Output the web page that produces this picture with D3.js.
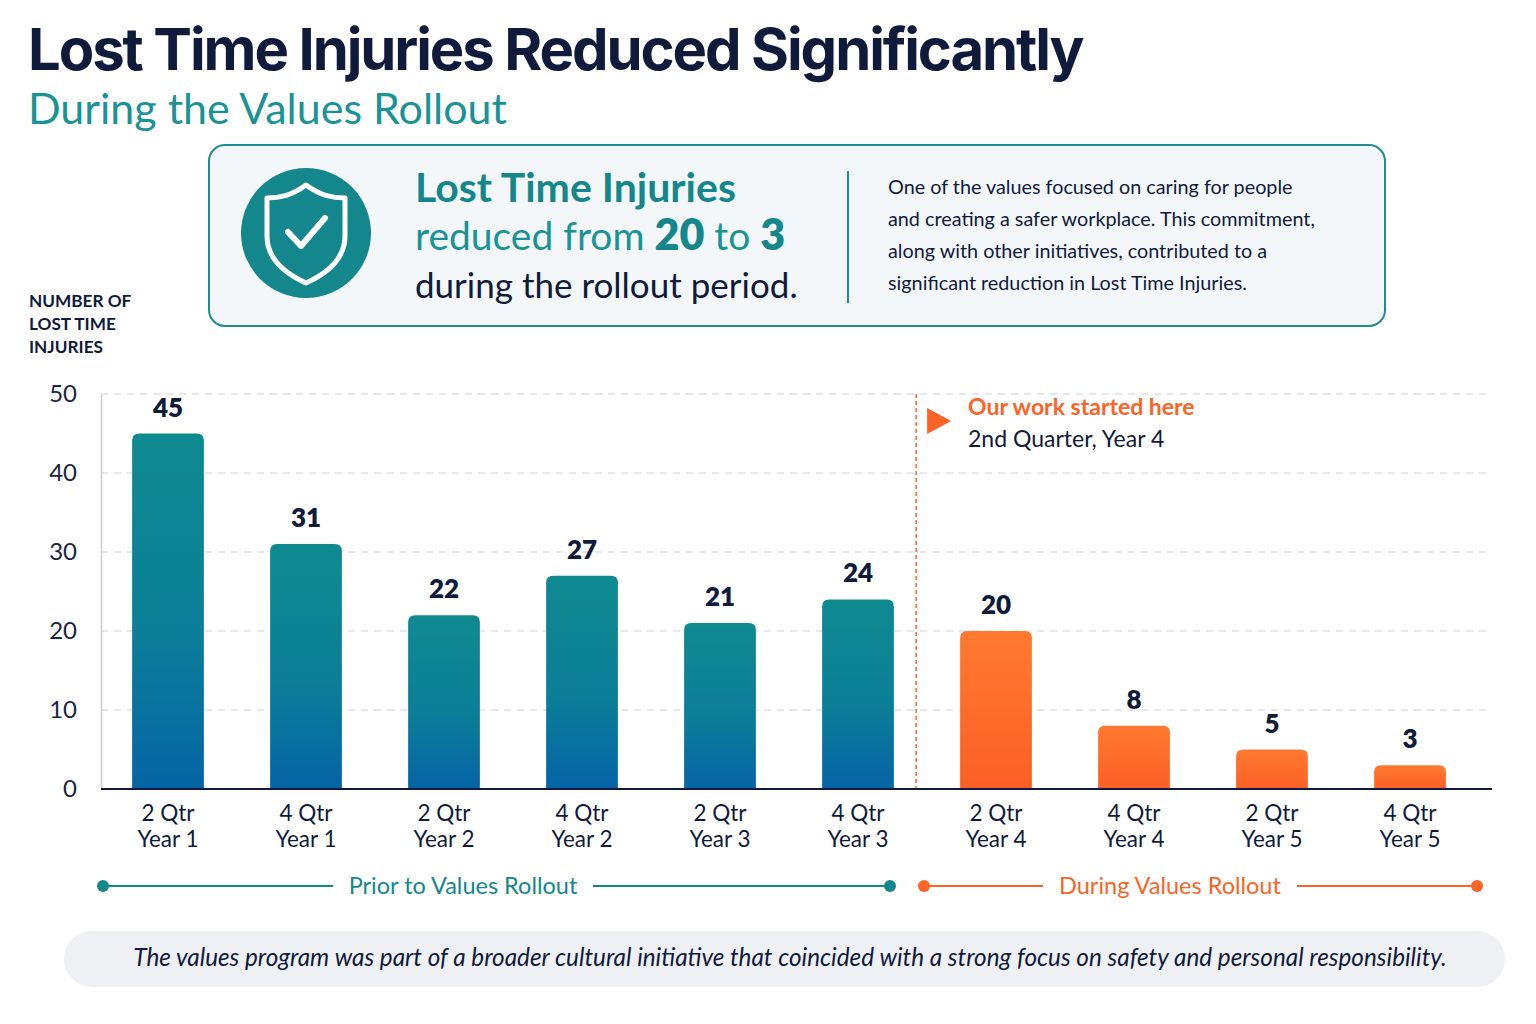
<!DOCTYPE html>
<html>
<head>
<meta charset="utf-8">
<script src="https://cdn.jsdelivr.net/npm/d3@7"></script>
<style>
  body { margin: 0; background: #ffffff; }
  svg { display: block; font-family: Lato, "Noto Sans", sans-serif; }
</style>
</head>
<body>
<div id="chart"></div>
<script>
// data
let periods = ["2 Qtr|Year 1", "4 Qtr|Year 1", "2 Qtr|Year 2", "4 Qtr|Year 2", "2 Qtr|Year 3",
               "4 Qtr|Year 3", "2 Qtr|Year 4", "4 Qtr|Year 4", "2 Qtr|Year 5", "4 Qtr|Year 5"];
let injuries = [45, 31, 22, 27, 21, 24, 20, 8, 5, 3];
let phase = ["prior", "prior", "prior", "prior", "prior", "prior", "during", "during", "during", "during"];
let yTicks = [0, 10, 20, 30, 40, 50];
let noteLines = [
    "One of the values focused on caring for people",
    "and creating a safer workplace. This commitment,",
    "along with other initiatives, contributed to a",
    "significant reduction in Lost Time Injuries."
];

const navy = "#101a3b",
      teal = "#14878c",
      orange = "#fb6426",
      grid = "#dfe1e8";

let W = 1536, H = 1024;
let svg = d3.select("#chart").append("svg")
    .attr("width", W)
    .attr("height", H);

let defs = svg.append("defs");
let gTeal = defs.append("linearGradient").attr("id", "gradTeal")
    .attr("x1", 0).attr("y1", 0).attr("x2", 0).attr("y2", 1);
gTeal.append("stop").attr("offset", "0%").attr("stop-color", "#0f8a90");
gTeal.append("stop").attr("offset", "55%").attr("stop-color", "#0b7f98");
gTeal.append("stop").attr("offset", "100%").attr("stop-color", "#0664a6");
let gOrange = defs.append("linearGradient").attr("id", "gradOrange")
    .attr("x1", 0).attr("y1", 0).attr("x2", 0).attr("y2", 1);
gOrange.append("stop").attr("offset", "0%").attr("stop-color", "#ff7a30");
gOrange.append("stop").attr("offset", "100%").attr("stop-color", "#fc5f26");

// title
svg.append("text")
    .attr("x", 28).attr("y", 70)
    .attr("font-family", "Inter, Lato, sans-serif")
    .attr("font-weight", 700)
    .attr("font-size", 58)
    .attr("letter-spacing", -2.1)
    .attr("fill", navy)
    .text("Lost Time Injuries Reduced Significantly");

svg.append("text")
    .attr("x", 28).attr("y", 124)
    .attr("font-size", 43)
    .attr("fill", "#1a9397")
    .text("During the Values Rollout");

// callout box
let box = svg.append("g");
box.append("rect")
    .attr("x", 209).attr("y", 145)
    .attr("width", 1176).attr("height", 181)
    .attr("rx", 16)
    .attr("fill", "#f3f7f9")
    .attr("stroke", "#1f8c91")
    .attr("stroke-width", 2);

box.append("circle")
    .attr("cx", 306).attr("cy", 233).attr("r", 65)
    .attr("fill", teal);

// shield outline + check
box.append("path")
    .attr("d", "M306,185 C321,196 333,198 345,198 L345,236 C345,258 328,273 306,283 C284,273 267,258 267,236 L267,198 C279,198 291,196 306,185 Z")
    .attr("fill", "none")
    .attr("stroke", "#ffffff")
    .attr("stroke-width", 5)
    .attr("stroke-linejoin", "round");
box.append("path")
    .attr("d", "M288,232 L301,246 L325,218")
    .attr("fill", "none")
    .attr("stroke", "#ffffff")
    .attr("stroke-width", 6)
    .attr("stroke-linecap", "round")
    .attr("stroke-linejoin", "round");

box.append("text")
    .attr("x", 415).attr("y", 202)
    .attr("font-size", 41)
    .attr("font-weight", 700)
    .attr("fill", teal)
    .text("Lost Time Injuries");

let line2 = box.append("text")
    .attr("x", 415).attr("y", 250)
    .attr("font-size", 39)
    .attr("fill", "#1a9397");
line2.append("tspan").text("reduced from ");
line2.append("tspan").attr("font-weight", 800).attr("font-size", 43).attr("fill", teal).text("20");
line2.append("tspan").text(" to ");
line2.append("tspan").attr("font-weight", 800).attr("font-size", 43).attr("fill", teal).text("3");

box.append("text")
    .attr("x", 415).attr("y", 298)
    .attr("font-size", 35)
    .attr("fill", navy)
    .text("during the rollout period.");

box.append("line")
    .attr("x1", 848).attr("x2", 848)
    .attr("y1", 171).attr("y2", 303)
    .attr("stroke", "#1f8c91")
    .attr("stroke-width", 2);

box.selectAll(".note")
    .data(noteLines)
    .enter().append("text")
    .attr("class", "note")
    .attr("x", 888)
    .attr("y", (d, i) => 194 + i * 32)
    .attr("font-size", 19.8)
    .attr("fill", navy)
    .text(d => d);

// y axis title
svg.selectAll(".ytitle")
    .data(["NUMBER OF", "LOST TIME", "INJURIES"])
    .enter().append("text")
    .attr("class", "ytitle")
    .attr("x", 29)
    .attr("y", (d, i) => 307 + i * 23)
    .attr("font-size", 17.2)
    .attr("font-weight", 700)
    .attr("fill", navy)
    .text(d => d);

// scales
let x = d3.scaleBand()
    .domain(periods)
    .range([99, 1479])
    .paddingInner(0.48)
    .paddingOuter(0.24);

let y = d3.scaleLinear()
    .domain([0, 50])
    .range([789, 394]);

let plot = svg.append("g");

// gridlines
plot.selectAll(".grid")
    .data(yTicks.filter(d => d > 0))
    .enter().append("line")
    .attr("class", "grid")
    .attr("x1", 101).attr("x2", 1492)
    .attr("y1", d => y(d)).attr("y2", d => y(d))
    .attr("stroke", grid)
    .attr("stroke-width", 1.5)
    .attr("stroke-dasharray", "7,6");

// y axis
let yAxis = d3.axisLeft(y).tickValues(yTicks).tickSize(0).tickPadding(24);
let yg = plot.append("g")
    .attr("transform", "translate(101,0)")
    .call(yAxis);
yg.select(".domain").attr("stroke", "#c9ccd6").attr("stroke-width", 1.5);
yg.selectAll("text")
    .attr("font-family", "Lato, sans-serif")
    .attr("font-size", 24)
    .attr("fill", "#1c2540");

// marker for start of rollout
let startX = x(periods[6]) - 44;
plot.append("line")
    .attr("x1", startX).attr("x2", startX)
    .attr("y1", 394).attr("y2", 789)
    .attr("stroke", orange)
    .attr("stroke-width", 1.5)
    .attr("stroke-dasharray", "4,3");

// bars with rounded tops
function barPath(d, i) {
    let x0 = x(periods[i]), w = x.bandwidth(), y0 = y(d), y1 = y(0), r = 7;
    return `M${x0},${y1} L${x0},${y0 + r} Q${x0},${y0} ${x0 + r},${y0} L${x0 + w - r},${y0} Q${x0 + w},${y0} ${x0 + w},${y0 + r} L${x0 + w},${y1} Z`;
}

plot.selectAll(".bar")
    .data(injuries)
    .enter().append("path")
    .attr("class", "bar")
    .attr("d", barPath)
    .attr("fill", (d, i) => phase[i] === "prior" ? "url(#gradTeal)" : "url(#gradOrange)");

plot.selectAll(".val")
    .data(injuries)
    .enter().append("text")
    .attr("class", "val")
    .attr("x", (d, i) => x(periods[i]) + x.bandwidth() / 2)
    .attr("y", d => y(d) - 17)
    .attr("text-anchor", "middle")
    .attr("font-size", 26)
    .attr("font-weight", 800)
    .attr("fill", navy)
    .text(d => d);

// baseline
plot.append("line")
    .attr("x1", 101).attr("x2", 1492)
    .attr("y1", y(0)).attr("y2", y(0))
    .attr("stroke", navy)
    .attr("stroke-width", 2);

// x labels
let xl = plot.selectAll(".xlab")
    .data(periods)
    .enter().append("text")
    .attr("class", "xlab")
    .attr("x", d => x(d) + x.bandwidth() / 2)
    .attr("text-anchor", "middle")
    .attr("font-size", 22.5)
    .attr("fill", navy);
xl.append("tspan").attr("y", 821).attr("x", d => x(d) + x.bandwidth() / 2).text(d => d.split("|")[0]);
xl.append("tspan").attr("y", 847).attr("x", d => x(d) + x.bandwidth() / 2).text(d => d.split("|")[1]);

// annotation
plot.append("path")
    .attr("d", `M${startX + 11},408 L${startX + 35},421 L${startX + 11},434 Z`)
    .attr("fill", orange);
plot.append("text")
    .attr("x", 968).attr("y", 415)
    .attr("font-size", 23)
    .attr("font-weight", 700)
    .attr("fill", orange)
    .text("Our work started here");
plot.append("text")
    .attr("x", 968).attr("y", 447)
    .attr("font-size", 23)
    .attr("fill", navy)
    .text("2nd Quarter, Year 4");

// phase brackets
let phases = [
    {name: "Prior to Values Rollout", x1: 103, x2: 890, mid: 463, gap: 130, color: teal},
    {name: "During Values Rollout", x1: 924, x2: 1477, mid: 1170, gap: 127, color: orange}
];
phases.forEach(function(p) {
    let g = svg.append("g");
    g.append("line")
        .attr("x1", p.x1).attr("x2", p.mid - p.gap)
        .attr("y1", 886).attr("y2", 886)
        .attr("stroke", p.color).attr("stroke-width", 2);
    g.append("line")
        .attr("x1", p.mid + p.gap).attr("x2", p.x2)
        .attr("y1", 886).attr("y2", 886)
        .attr("stroke", p.color).attr("stroke-width", 2);
    g.selectAll("circle")
        .data([p.x1, p.x2])
        .enter().append("circle")
        .attr("cx", d => d).attr("cy", 886).attr("r", 6)
        .attr("fill", p.color);
    g.append("text")
        .attr("x", p.mid).attr("y", 894)
        .attr("text-anchor", "middle")
        .attr("font-size", 23.5)
        .attr("fill", p.color)
        .text(p.name);
});

// footnote
svg.append("rect")
    .attr("x", 64).attr("y", 931)
    .attr("width", 1441).attr("height", 56)
    .attr("rx", 28)
    .attr("fill", "#eff0f4");
svg.append("text")
    .attr("x", 790).attr("y", 966)
    .attr("text-anchor", "middle")
    .attr("font-size", 24.3)
    .attr("font-style", "italic")
    .attr("fill", navy)
    .text("The values program was part of a broader cultural initiative that coincided with a strong focus on safety and personal responsibility.");
</script>
</body>
</html>
